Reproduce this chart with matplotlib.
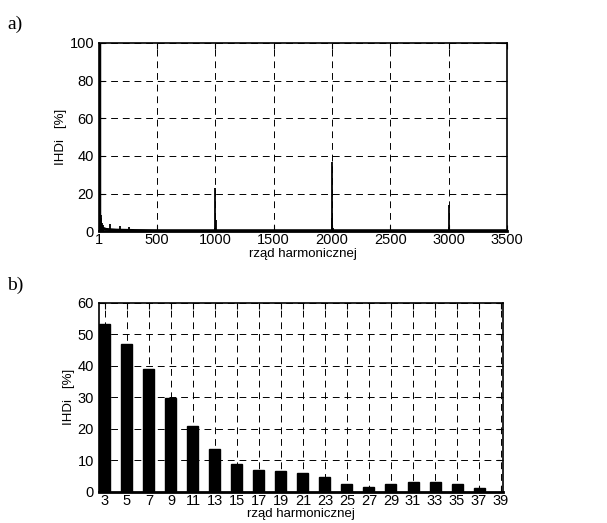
import matplotlib.pyplot as plt

# dane - widmo a)
rzad_a = [1, 3, 5, 7, 9, 11, 13, 15, 17, 19, 21, 23, 25, 27, 29, 31, 33, 35, 37,
          100, 180, 260, 350, 995, 1000, 1003, 1005, 1997, 2000, 2003, 2005, 3000, 3002]
ihd_a = [100, 53.2, 47.0, 39.0, 29.9, 21.0, 13.4, 8.7, 7.0, 6.7, 6.0, 4.5, 2.4, 1.6, 2.4, 3.1, 3.1, 2.4, 1.3,
         4.0, 2.5, 2.3, 0.8, 1.5, 23.0, 6.0, 1.2, 1.8, 37.0, 7.0, 1.5, 14.0, 2.0]
tlo_x = [1, 40, 60, 100, 150, 300, 500, 1000, 2000, 3000, 3500]
tlo_y = [0, 1.5, 1.0, 0.8, 0.6, 0.4, 0.3, 0.3, 0.3, 0.3, 0.3]
xt_a = [1, 500, 1000, 1500, 2000, 2500, 3000, 3500]
yt_a = [0, 20, 40, 60, 80, 100]

# dane - slupki b)
rzad_b = [3, 5, 7, 9, 11, 13, 15, 17, 19, 21, 23, 25, 27, 29, 31, 33, 35, 37]
ihd_b = [53.2, 47.0, 39.0, 29.9, 21.0, 13.4, 8.7, 7.0, 6.7, 6.0, 4.5, 2.4, 1.6, 2.4, 3.1, 3.1, 2.4, 1.3]
xt_b = list(range(3, 40, 2))
yt_b = [0, 10, 20, 30, 40, 50, 60]

plt.rcParams['font.family'] = ['Liberation Sans', 'DejaVu Sans']
fig = plt.figure(figsize=(6.07, 5.23), dpi=100)

ax1 = fig.add_axes([0.163, 0.558, 0.672, 0.360])
ax2 = fig.add_axes([0.163, 0.060, 0.666, 0.361])

# wykres a)
ax1.plot(tlo_x, tlo_y, color='black', lw=2)
ax1.vlines(rzad_a, 0, ihd_a, color='black', lw=1.3)
ax1.vlines([1], 0, [100], color='black', lw=2.5)
ax1.set_xlim(1, 3500)
ax1.set_ylim(0, 100)
ax1.set_xticks(xt_a)
ax1.set_yticks(yt_a)

# wykres b)
ax2.bar(rzad_b, ihd_b, width=1.0, color='black', edgecolor='black')
ax2.set_xlim(2.45, 39.2)
ax2.set_ylim(0, 60)
ax2.set_xticks(xt_b)
ax2.set_yticks(yt_b)

for ax in (ax1, ax2):
    ax.grid(True, color='black', linestyle=(0, (7, 5)), linewidth=0.7)
    ax.set_axisbelow(True)
    ax.tick_params(direction='in', top=True, right=True, length=4, labelsize=10.5, pad=1.5)
    ax.tick_params(axis='y', pad=3.5)
    for s in ax.spines.values():
        s.set_linewidth(1.2)
    ax.spines['bottom'].set_linewidth(2)
    ax.set_xlabel('rząd harmonicznej', fontsize=9.5, labelpad=0.5)
    ax.set_ylabel('IHDi   [%]', fontsize=9.5, labelpad=2)

fig.text(0.012, 0.945, 'a)', fontsize=14, family='Liberation Serif')
fig.text(0.012, 0.445, 'b)', fontsize=14, family='Liberation Serif')

fig.savefig('out.png', dpi=100)
